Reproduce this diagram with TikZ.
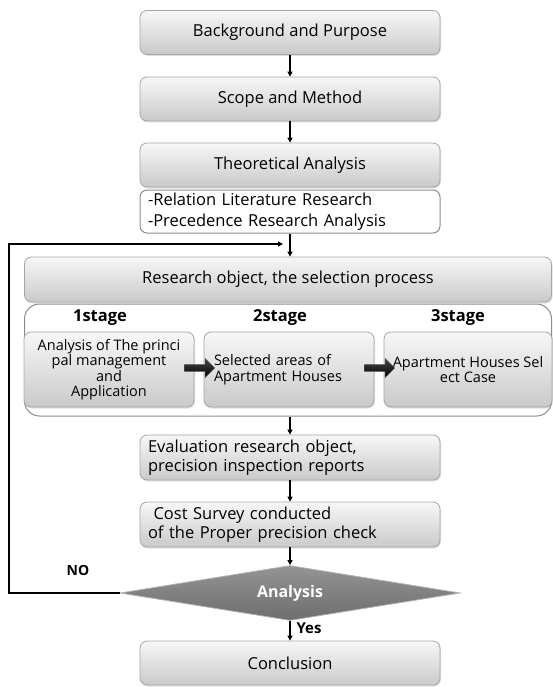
\documentclass[tikz,border=0pt]{standalone}
\usepackage{fontspec}
\setmainfont{Open Sans}
\usetikzlibrary{shapes.geometric,shapes.arrows,shadows,arrows.meta}
\begin{document}
\begin{tikzpicture}[x=1pt,y=-1pt,
  box/.style={draw=black!35, line width=0.8pt, rounded corners=7pt,
    top color=black!3, bottom color=black!21,
    drop shadow={opacity=0.25,shadow xshift=1pt,shadow yshift=-1.5pt},
    inner sep=0pt, font=\fontsize{16.5}{20}\selectfont},
  mainbox/.style={box, minimum width=300pt, minimum height=44pt},
  stagebox/.style={box, minimum height=75pt, align=center,
    font=\fontsize{14.5}{15.5}\selectfont},
  stagelabel/.style={font=\bfseries\fontsize{16.5}{20}\selectfont, inner sep=0pt},
  arr/.style={line width=1.4pt, -{Triangle[length=5pt,width=5pt]}},
  blockarrow/.style={single arrow, draw=black!70, line width=0.4pt,
    top color=black!72, bottom color=black, minimum height=30pt,
    minimum width=19pt, single arrow head extend=4pt, inner sep=2pt}
]
\useasboundingbox (0,0) rectangle (553,687);

% top boxes
\node[mainbox] (bg) at (290,32.5) {Background and Purpose};
\node[mainbox] (sm) at (290,99) {Scope and Method};
\node[mainbox] (th) at (290,165) {Theoretical Analysis};
\node[draw=black!45, line width=1pt, rounded corners=7pt, fill=white,
  minimum width=300pt, minimum height=43pt, text width=284pt, align=left,
  inner sep=0pt, font=\fontsize{16.5}{21}\selectfont] (lit) at (290,211.5)
  {-Relation Literature Research\\-Precedence Research Analysis};

% research object
\node[box, minimum width=527pt, minimum height=45pt] (ro) at (288,279.5)
  {Research object, the selection process};
\node[draw=black!45, line width=1pt, rounded corners=15pt, fill=white,
  minimum width=527pt, minimum height=112pt, inner sep=0pt] (cont) at (288,360) {};

\node[stagelabel] (l1) at (100,318) {1stage};
\node[stagelabel] (l2) at (280,318) {2stage};
\node[stagelabel] (l3) at (458,318) {3stage};

\node[stagebox, minimum width=170pt] (s1) at (109,369.5)
  {Analysis of The princi\\pal management\\and\\Application};
\node[stagebox, minimum width=170pt, text width=150pt, align=left] (s2) at (289,369.5)
  {Selected areas of\\Apartment Houses};
\node[stagebox, minimum width=168pt] (s3) at (468,369.5)
  {Apartment Houses Sel\\ect Case};

\node[blockarrow] (a1) at (198,368) {};
\node[blockarrow] (a2) at (378,368) {};

% lower boxes
\node[mainbox, minimum height=45pt, text width=284pt, align=left,
  font=\fontsize{16.5}{19.5}\selectfont] (ev) at (290,457.5)
  {Evaluation research object,\\precision inspection reports};
\node[mainbox, minimum height=45pt, text width=284pt, align=left,
  font=\fontsize{16.5}{19.5}\selectfont] (cs) at (290,524.5)
  {\ Cost Survey conducted\\of the Proper precision check};

\node[diamond, aspect=6, minimum width=340pt, minimum height=55pt,
  inner sep=0pt, draw=black!30, line width=0.8pt,
  top color=black!42, bottom color=black!57, text=white,
  font=\bfseries\fontsize{16}{20}\selectfont] (dia) at (290,593) {Analysis};

\node[mainbox] (conc) at (290,663) {Conclusion};

\node[font=\bfseries\fontsize{14}{16}\selectfont, inner sep=0pt] (no) at (78,570) {NO};
\node[font=\bfseries\fontsize{15}{17}\selectfont, inner sep=0pt] (yes) at (309,628) {Yes};

% connectors
\draw[arr] (bg.south) -- (sm.north);
\draw[arr] (sm.south) -- (th.north);
\draw[arr] (lit.south) -- (lit.south |- ro.north);
\draw[arr] (ev.north |- cont.south) -- (ev.north);
\draw[arr] (ev.south) -- (cs.north);
\draw[arr] (cs.south) -- (dia.north);
\draw[arr] (dia.south) -- (conc.north);

\coordinate (fbtop) at (9,244);
\coordinate (fbend) at (283,244);
\draw[arr] (dia.west) -| (fbtop) -- (fbend);
\end{tikzpicture}
\end{document}
